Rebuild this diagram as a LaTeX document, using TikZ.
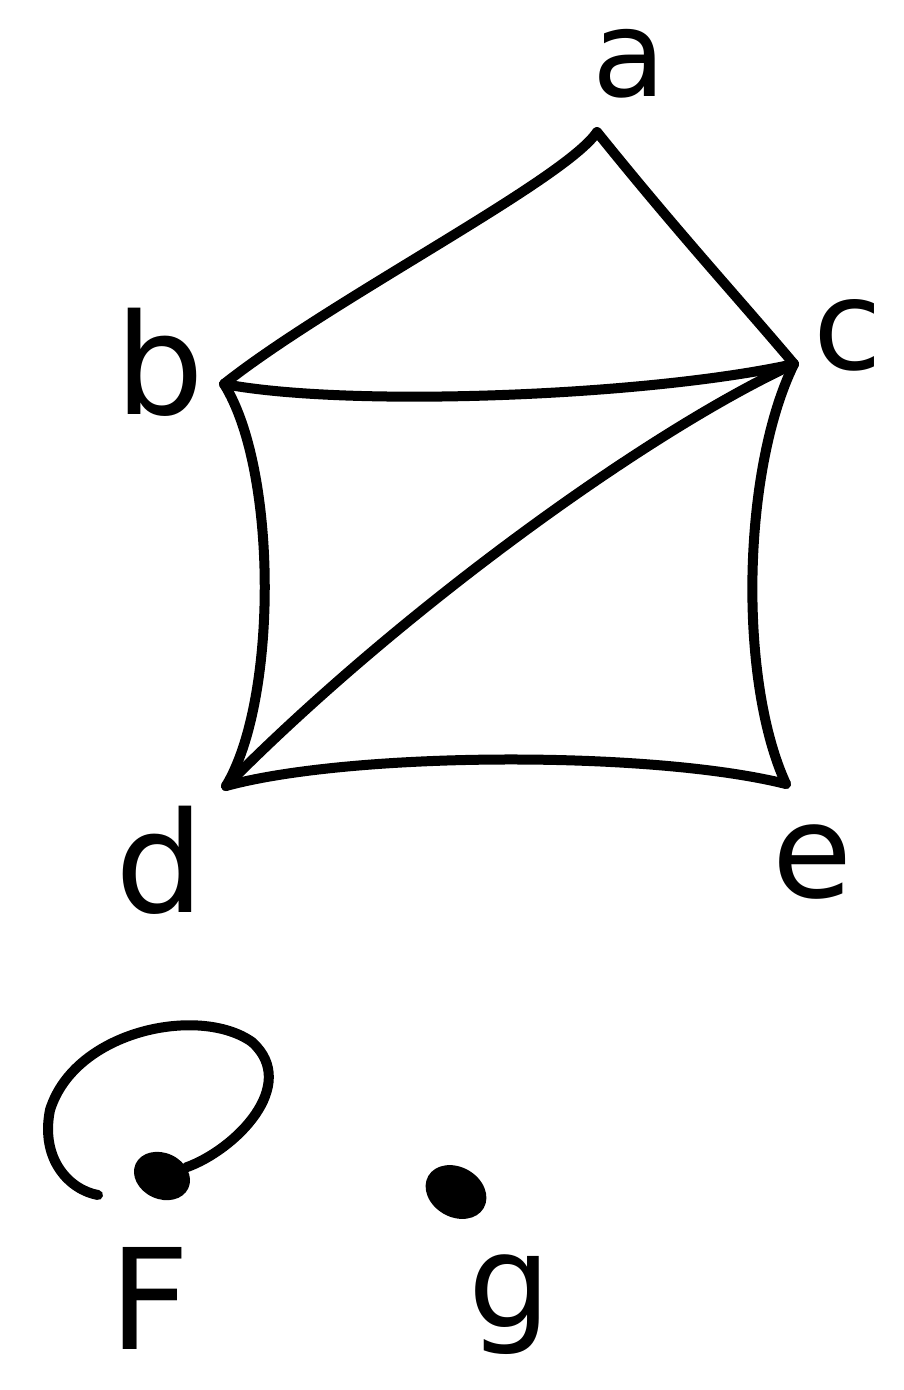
\documentclass[tikz,border=0pt]{standalone}
\usepackage{fontspec}
\setmainfont{DejaVu Sans}
\usetikzlibrary{shapes.geometric}
\begin{document}
\begin{tikzpicture}[x=1pt,y=-1pt,
  edge/.style={line width=10pt, line cap=round, line join=round},
  lbl/.style={inner sep=0pt},
  dot/.style={ellipse, fill=black, draw=none, inner sep=0pt}]
\useasboundingbox (0,0) rectangle (903,1390);
% vertices
\coordinate (a) at (597,132);
\coordinate (b) at (224,384);
\coordinate (c) at (794,364);
\coordinate (d) at (226,786);
\coordinate (e) at (786,784);
\node[dot, minimum width=58pt, minimum height=46pt, rotate=-25] (F) at (162,1176) {};
\node[dot, minimum width=64pt, minimum height=50pt, rotate=-30] (g) at (456,1192) {};
\coordinate (Fend) at (98,1195);
% labels
\node[lbl, font=\fontsize{120}{120}\selectfont] (la) at (629,64) {a};
\node[lbl, font=\fontsize{140}{140}\selectfont] (lb) at (160,362) {b};
\node[lbl, font=\fontsize{125}{125}\selectfont] (lc) at (848,335) {c};
\node[lbl, font=\fontsize{140}{140}\selectfont] (ld) at (160,860) {d};
\node[lbl, font=\fontsize{130}{130}\selectfont] (le) at (812,862) {e};
\node[lbl, font=\fontsize{140}{140}\selectfont] (lF) at (150,1298) {F};
\node[lbl, font=\fontsize{130}{130}\selectfont] (lg) at (510,1305) {g};
% edges
\draw[edge] (a) .. controls (565,180) and (330,300) .. (b);
\draw[edge] (a) .. controls (680,235) and (740,300) .. (c);
\draw[edge] (b) .. controls (350,408) and (650,396) .. (c);
\draw[edge] (c) .. controls (650,430) and (400,610) .. (d);
\draw[edge] (b) .. controls (278,470) and (278,700) .. (d);
\draw[edge] (c) .. controls (742,470) and (738,680) .. (e);
\draw[edge] (d) .. controls (350,752) and (650,750) .. (e);
\draw[edge] (F) .. controls (235,1150) and (300,1085) .. (252,1042)
  .. controls (200,1005) and (75,1030) .. (50,1110)
  .. controls (40,1160) and (70,1190) .. (Fend);
\end{tikzpicture}
\end{document}
